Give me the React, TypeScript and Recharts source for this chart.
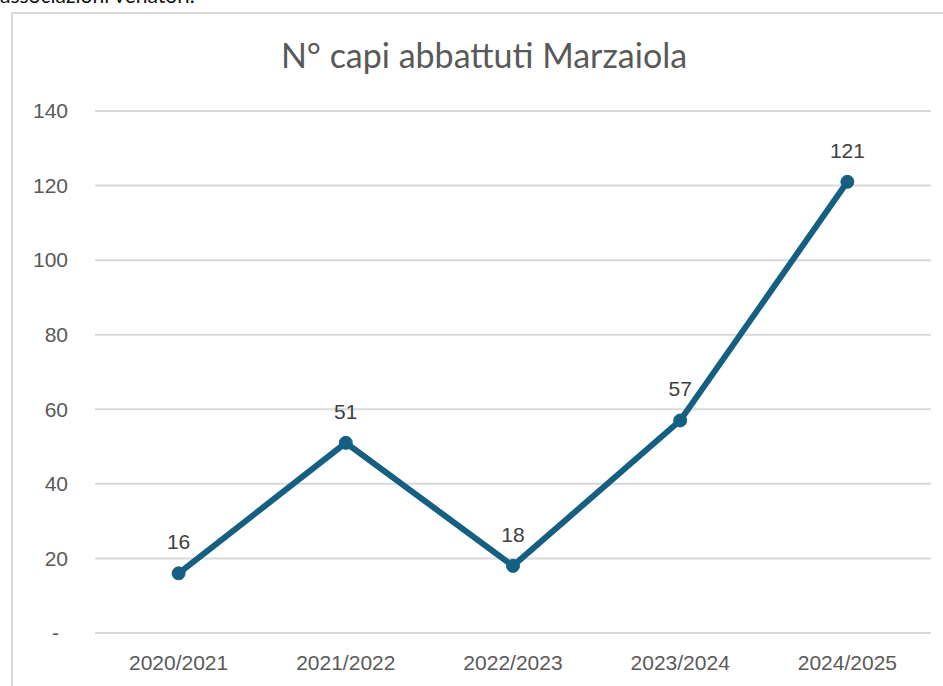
import { CartesianGrid, LabelList, Line, LineChart, XAxis, YAxis } from "recharts"

const seasons = ["2020/2021", "2021/2022", "2022/2023", "2023/2024", "2024/2025"]
const culled = [16, 51, 18, 57, 121]
const yTicks = [0, 20, 40, 60, 80, 100, 120, 140]

const data = seasons.map((season, i) => ({ season, culled: culled[i] }))

const lineColor = "#156082"
const gridColor = "#d9d9d9"
const axisText = "#595959"
const sans = "'Liberation Sans', Arial, sans-serif"

function YTick(props: any) {
  const { x, y, payload } = props
  const isZero = payload.value === 0
  return (
    <text
      x={isZero ? x - 9 : x}
      y={y}
      dy="0.35em"
      textAnchor="end"
      fill={axisText}
      fontSize={21}
      fontFamily={sans}
    >
      {isZero ? "-" : payload.value}
    </text>
  )
}

export default function App() {
  return (
    <div
      style={{
        position: "fixed",
        left: 0,
        top: 0,
        width: 943,
        height: 686,
        background: "#fff",
        overflow: "hidden",
      }}
    >
      <div
        style={{
          position: "absolute",
          left: 0,
          top: -18,
          fontFamily: "Lato, sans-serif",
          fontSize: 21,
          color: "#111",
          whiteSpace: "nowrap",
        }}
      >
        associazioni venatori.
      </div>
      <div
        style={{
          position: "absolute",
          left: 11,
          top: 12,
          width: 960,
          height: 700,
          border: `2px solid ${gridColor}`,
          boxSizing: "border-box",
        }}
      />
      <div
        style={{
          position: "absolute",
          left: 0,
          width: 968,
          top: 34,
          textAlign: "center",
          fontFamily: "Lato, sans-serif",
          fontSize: 34,
          color: axisText,
          whiteSpace: "nowrap",
        }}
      >
        N° capi abbattuti Marzaiola
      </div>
      <div style={{ position: "absolute", left: 0, top: 0 }}>
        <LineChart
          width={943}
          height={686}
          data={data}
          margin={{ top: 111, right: 12, bottom: 0, left: 0 }}
        >
          <CartesianGrid vertical={false} stroke={gridColor} strokeWidth={2} />
          <XAxis
            dataKey="season"
            axisLine={false}
            tickLine={false}
            height={53}
            tickMargin={16}
            padding={{ left: 83.6, right: 83.6 }}
            tick={{ fill: axisText, fontSize: 21, fontFamily: sans }}
          />
          <YAxis
            domain={[0, 140]}
            ticks={yTicks}
            width={95}
            axisLine={false}
            tickLine={false}
            tickMargin={21}
            tick={<YTick />}
          />
          <Line
            dataKey="culled"
            stroke={lineColor}
            strokeWidth={6}
            dot={{ r: 6.5, fill: lineColor, stroke: lineColor, strokeWidth: 1 }}
            isAnimationActive={false}
          >
            <LabelList
              dataKey="culled"
              position="top"
              offset={24}
              fill="#404040"
              fontSize={21}
              fontFamily={sans}
            />
          </Line>
        </LineChart>
      </div>
    </div>
  )
}
